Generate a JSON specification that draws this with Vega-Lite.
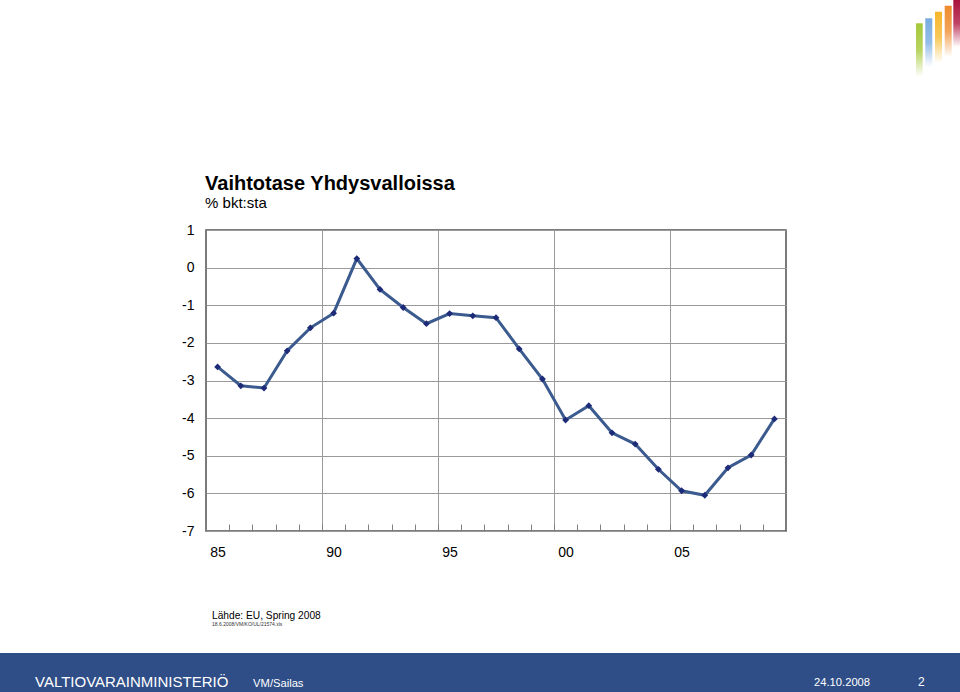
{
  "$schema": "https://vega.github.io/schema/vega-lite/v6.json",
  "width": 580,
  "height": 301,
  "autosize": {"type": "none"},
  "padding": {"left": 206, "top": 230, "right": 174, "bottom": 161},
  "background": "white",
  "config": {
    "view": {"stroke": "#505050", "strokeWidth": 1.5},
    "font": "Liberation Sans"
  },
  "data": {
    "values": [
      {"year": 1985, "value": -2.64},
      {"year": 1986, "value": -3.14},
      {"year": 1987, "value": -3.2},
      {"year": 1988, "value": -2.21},
      {"year": 1989, "value": -1.6},
      {"year": 1990, "value": -1.21},
      {"year": 1991, "value": 0.24},
      {"year": 1992, "value": -0.58},
      {"year": 1993, "value": -1.06},
      {"year": 1994, "value": -1.49},
      {"year": 1995, "value": -1.22},
      {"year": 1996, "value": -1.28},
      {"year": 1997, "value": -1.33},
      {"year": 1998, "value": -2.16},
      {"year": 1999, "value": -2.96},
      {"year": 2000, "value": -4.05},
      {"year": 2001, "value": -3.67},
      {"year": 2002, "value": -4.39},
      {"year": 2003, "value": -4.69},
      {"year": 2004, "value": -5.36},
      {"year": 2005, "value": -5.93},
      {"year": 2006, "value": -6.05},
      {"year": 2007, "value": -5.32},
      {"year": 2008, "value": -4.98},
      {"year": 2009, "value": -4.02}
    ]
  },
  "layer": [
    {
      "mark": {"type": "line", "color": "#3b5a8e", "strokeWidth": 3},
      "encoding": {
        "x": {
          "field": "year",
          "type": "quantitative",
          "scale": {"domain": [1984.5, 2009.5], "nice": false, "zero": false},
          "axis": {
            "title": null,
            "values": [1984.5, 1985.5, 1986.5, 1987.5, 1988.5, 1989.5, 1990.5, 1991.5, 1992.5, 1993.5, 1994.5, 1995.5, 1996.5, 1997.5, 1998.5, 1999.5, 2000.5, 2001.5, 2002.5, 2003.5, 2004.5, 2005.5, 2006.5, 2007.5, 2008.5, 2009.5],
            "tickCount": 40,
            "grid": true,
            "gridColor": "#9a9a9a",
            "gridWidth": 1,
            "gridOpacity": {"condition": {"test": "datum.value > 1985 && datum.value < 2009 && (datum.value + 0.5) % 5 == 0", "value": 1}, "value": 0},
            "domain": false,
            "ticks": true,
            "tickSize": -7,
            "tickColor": "#808080",
            "tickWidth": 1,
            "labelExpr": "(datum.value + 0.5) % 5 == 0 && datum.value < 2009 ? slice(toString(datum.value + 0.5), 2) : ''",
            "labelOffset": 11.6,
            "labelPadding": 21,
            "labelFlush": false,
            "labelOverlap": false,
            "labelFont": "Liberation Sans",
            "labelFontSize": 14,
            "labelColor": "#000000"
          }
        },
        "y": {
          "field": "value",
          "type": "quantitative",
          "scale": {"domain": [-7, 1], "nice": false, "zero": false},
          "axis": {
            "title": null,
            "values": [-7, -6, -5, -4, -3, -2, -1, 0, 1],
            "tickCount": 20,
            "grid": true,
            "gridColor": "#9a9a9a",
            "gridWidth": 1,
            "domain": false,
            "ticks": false,
            "labelExpr": "toString(datum.value)",
            "labelOverlap": false,
            "labelFlush": false,
            "labelPadding": 12,
            "labelFont": "Liberation Sans",
            "labelFontSize": 14,
            "labelColor": "#000000"
          }
        }
      }
    },
    {
      "mark": {"type": "point", "shape": "diamond", "filled": true, "color": "#1d2a78", "size": 46, "opacity": 1},
      "encoding": {
        "x": {"field": "year", "type": "quantitative"},
        "y": {"field": "value", "type": "quantitative"}
      }
    },
    {
      "data": {"values": [{}]},
      "mark": {"type": "text", "text": "Vaihtotase Yhdysvalloissa", "align": "left", "baseline": "alphabetic", "color": "#000000", "fontSize": 20, "fontWeight": "bold"},
      "encoding": {
        "x": {"datum": 1984.46, "type": "quantitative"},
        "y": {"datum": 2.076, "type": "quantitative"}
      }
    },
    {
      "data": {"values": [{}]},
      "mark": {"type": "text", "text": "% bkt:sta", "align": "left", "baseline": "alphabetic", "color": "#000000", "fontSize": 15},
      "encoding": {
        "x": {"datum": 1984.46, "type": "quantitative"},
        "y": {"datum": 1.577, "type": "quantitative"}
      }
    },
    {
      "data": {"values": [{}]},
      "mark": {"type": "rect", "color": "#2f4e87"},
      "encoding": {
        "x": {"datum": 1975, "type": "quantitative"},
        "x2": {"datum": 2018},
        "y": {"datum": -10.24, "type": "quantitative"},
        "y2": {"datum": -11.5}
      }
    },
    {
      "data": {"values": [{}]},
      "mark": {"type": "text", "text": "VALTIOVARAINMINISTERIÖ", "align": "left", "baseline": "alphabetic", "color": "#ffffff", "fontSize": 15},
      "encoding": {
        "x": {"datum": 1977.13, "type": "quantitative"},
        "y": {"datum": -11.15, "type": "quantitative"}
      }
    },
    {
      "data": {"values": [{}]},
      "mark": {"type": "text", "text": "VM/Sailas", "align": "left", "baseline": "alphabetic", "color": "#ffffff", "fontSize": 11.2},
      "encoding": {
        "x": {"datum": 1986.53, "type": "quantitative"},
        "y": {"datum": -11.15, "type": "quantitative"}
      }
    },
    {
      "data": {"values": [{}]},
      "mark": {"type": "text", "text": "24.10.2008", "align": "left", "baseline": "alphabetic", "color": "#ffffff", "fontSize": 11.2},
      "encoding": {
        "x": {"datum": 2010.71, "type": "quantitative"},
        "y": {"datum": -11.12, "type": "quantitative"}
      }
    },
    {
      "data": {"values": [{}]},
      "mark": {"type": "text", "text": "2", "align": "left", "baseline": "alphabetic", "color": "#ffffff", "fontSize": 12},
      "encoding": {
        "x": {"datum": 2015.19, "type": "quantitative"},
        "y": {"datum": -11.12, "type": "quantitative"}
      }
    },
    {
      "data": {"values": [{}]},
      "mark": {"type": "text", "text": "Lähde: EU, Spring 2008", "align": "left", "baseline": "alphabetic", "color": "#000000", "fontSize": 10.2},
      "encoding": {
        "x": {"datum": 1984.76, "type": "quantitative"},
        "y": {"datum": -9.34, "type": "quantitative"}
      }
    },
    {
      "data": {"values": [{}]},
      "mark": {"type": "text", "text": "18.6.2008/VM/KO/UL/21574.xls", "align": "left", "baseline": "alphabetic", "color": "#333333", "fontSize": 5},
      "encoding": {
        "x": {"datum": 1984.76, "type": "quantitative"},
        "y": {"datum": -9.53, "type": "quantitative"}
      }
    },
    {
      "data": {"values": [{}]},
      "mark": {"type": "rect", "color": {"gradient": "linear", "x1": 0, "y1": 0, "x2": 0, "y2": 1, "stops": [{"offset": 0, "color": "#a6c83a"}, {"offset": 0.5, "color": "#b8d460"}, {"offset": 1, "color": "#ffffff"}]}},
      "encoding": {
        "x": {"datum": 2015.103, "type": "quantitative"},
        "x2": {"datum": 2015.392},
        "y": {"datum": 6.494, "type": "quantitative"},
        "y2": {"datum": 5.066}
      }
    },
    {
      "data": {"values": [{}]},
      "mark": {"type": "rect", "color": {"gradient": "linear", "x1": 0, "y1": 0, "x2": 0, "y2": 1, "stops": [{"offset": 0, "color": "#78ace0"}, {"offset": 0.5, "color": "#94bee8"}, {"offset": 1, "color": "#ffffff"}]}},
      "encoding": {
        "x": {"datum": 2015.504, "type": "quantitative"},
        "x2": {"datum": 2015.806},
        "y": {"datum": 6.627, "type": "quantitative"},
        "y2": {"datum": 5.332}
      }
    },
    {
      "data": {"values": [{}]},
      "mark": {"type": "rect", "color": {"gradient": "linear", "x1": 0, "y1": 0, "x2": 0, "y2": 1, "stops": [{"offset": 0, "color": "#f6b52a"}, {"offset": 0.5, "color": "#f8c85a"}, {"offset": 1, "color": "#ffffff"}]}},
      "encoding": {
        "x": {"datum": 2015.922, "type": "quantitative"},
        "x2": {"datum": 2016.224},
        "y": {"datum": 6.802, "type": "quantitative"},
        "y2": {"datum": 5.439}
      }
    },
    {
      "data": {"values": [{}]},
      "mark": {"type": "rect", "color": {"gradient": "linear", "x1": 0, "y1": 0, "x2": 0, "y2": 1, "stops": [{"offset": 0, "color": "#ef8a2a"}, {"offset": 0.5, "color": "#f3a45a"}, {"offset": 1, "color": "#ffffff"}]}},
      "encoding": {
        "x": {"datum": 2016.34, "type": "quantitative"},
        "x2": {"datum": 2016.642},
        "y": {"datum": 6.961, "type": "quantitative"},
        "y2": {"datum": 5.598}
      }
    },
    {
      "data": {"values": [{}]},
      "mark": {"type": "rect", "color": {"gradient": "linear", "x1": 0, "y1": 0, "x2": 0, "y2": 1, "stops": [{"offset": 0, "color": "#a8123c"}, {"offset": 0.5, "color": "#c04466"}, {"offset": 1, "color": "#ffffff"}]}},
      "encoding": {
        "x": {"datum": 2016.711, "type": "quantitative"},
        "x2": {"datum": 2017.2},
        "y": {"datum": 7.113, "type": "quantitative"},
        "y2": {"datum": 5.864}
      }
    }
  ]
}
